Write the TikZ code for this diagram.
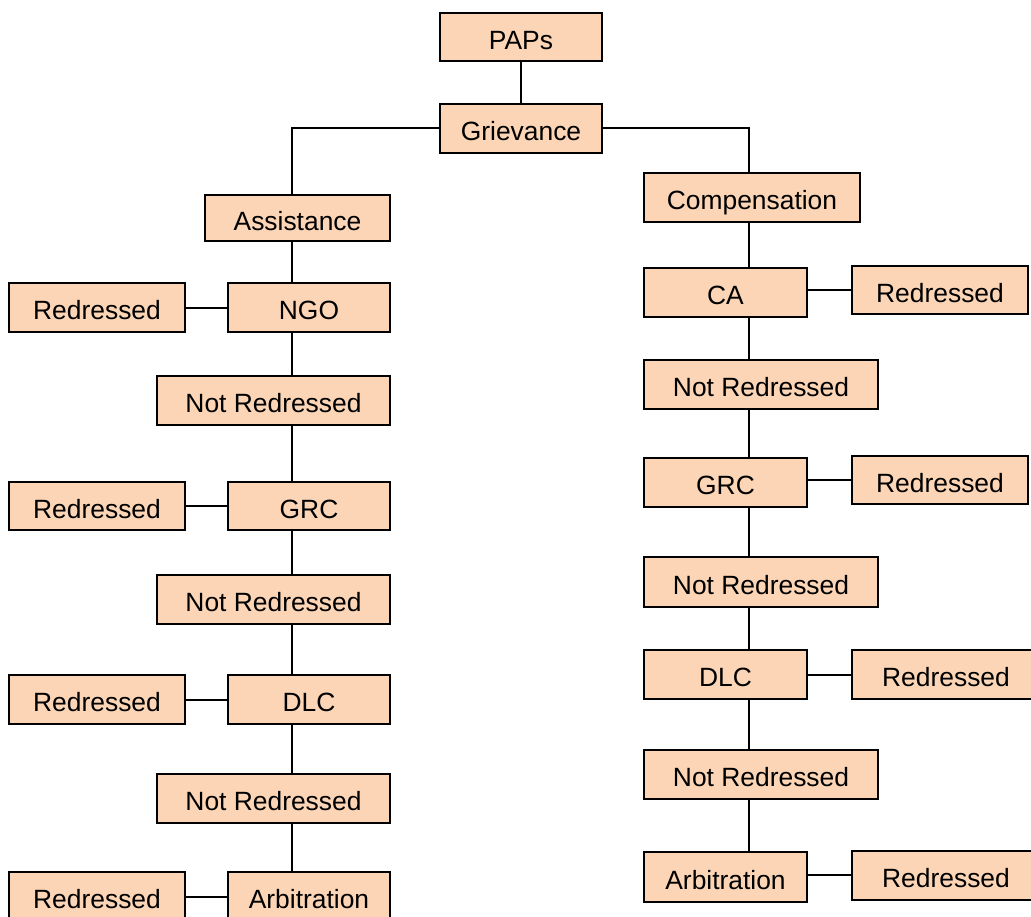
\documentclass[tikz,border=0pt]{standalone}
\usepackage{fontspec}
\setmainfont{Liberation Sans}
\definecolor{peach}{RGB}{251,213,181}
\begin{document}
\begin{tikzpicture}[x=0.5pt,y=-0.5pt,
  box/.style={draw=black,fill=peach,line width=1pt,inner sep=0pt,text height=12pt,text depth=0pt,font=\fontsize{13.2}{15}\selectfont},
  conn/.style={draw=black,line width=1pt}]
\useasboundingbox (0,0) rectangle (1031,916);
% top
\node[box,minimum width=81pt,minimum height=24pt] (paps) at (521,37) {PAPs};
\node[box,minimum width=81pt,minimum height=24.5pt] (griev) at (521,128) {Grievance};
\node[box,minimum width=92.5pt,minimum height=23pt] (assist) at (297.5,218) {Assistance};
\node[box,minimum width=108pt,minimum height=24.5pt] (comp) at (752,197.5) {Compensation};
% left column
\node[box,minimum width=81pt,minimum height=24.5pt] (ngo) at (309,307.5) {NGO};
\node[box,minimum width=88pt,minimum height=24.5pt] (lred1) at (97,307.5) {Redressed};
\node[box,minimum width=116.5pt,minimum height=24.5pt] (lnr1) at (273.5,400.5) {Not Redressed};
\node[box,minimum width=81pt,minimum height=24pt] (lgrc) at (309,506) {GRC};
\node[box,minimum width=88pt,minimum height=24pt] (lred2) at (97,506) {Redressed};
\node[box,minimum width=116.5pt,minimum height=24.5pt] (lnr2) at (273.5,599.5) {Not Redressed};
\node[box,minimum width=81pt,minimum height=24.5pt] (ldlc) at (309,699.5) {DLC};
\node[box,minimum width=88pt,minimum height=24.5pt] (lred3) at (97,699.5) {Redressed};
\node[box,minimum width=116.5pt,minimum height=24.5pt] (lnr3) at (273.5,798.5) {Not Redressed};
\node[box,minimum width=81pt,minimum height=24.5pt] (larb) at (309,896.5) {Arbitration};
\node[box,minimum width=88pt,minimum height=24.5pt] (lred4) at (97,896.5) {Redressed};
% right column
\node[box,minimum width=81.5pt,minimum height=24.5pt] (ca) at (725.5,292.5) {CA};
\node[box,minimum width=88pt,minimum height=24pt] (rred1) at (940,290) {Redressed};
\node[box,minimum width=117pt,minimum height=24.5pt] (rnr1) at (761,384) {Not Redressed};
\node[box,minimum width=81.5pt,minimum height=24.5pt] (rgrc) at (725.5,482.5) {GRC};
\node[box,minimum width=88pt,minimum height=24pt] (rred2) at (940,480) {Redressed};
\node[box,minimum width=117pt,minimum height=25pt] (rnr2) at (761,582) {Not Redressed};
\node[box,minimum width=81.5pt,minimum height=24.5pt] (rdlc) at (725.5,674.5) {DLC};
\node[box,minimum width=94pt,minimum height=24.5pt] (rred3) at (946,674.5) {Redressed};
\node[box,minimum width=117pt,minimum height=24.5pt] (rnr3) at (761,774.5) {Not Redressed};
\node[box,minimum width=81.5pt,minimum height=25pt] (rarb) at (725.5,877) {Arbitration};
\node[box,minimum width=94pt,minimum height=24.5pt] (rred4) at (946,875) {Redressed};
% spine coordinates
\coordinate (lv) at (292,0);
\coordinate (rv) at (749,0);
% connectors
\draw[conn] (paps.south) -- (griev.north);
\draw[conn] (griev.west) -| (assist.north -| lv);
\draw[conn] (griev.east) -| (comp.north -| rv);
\draw[conn] (assist.south -| lv) -- (ngo.north -| lv);
\draw[conn] (ngo.south -| lv) -- (lnr1.north -| lv);
\draw[conn] (lnr1.south -| lv) -- (lgrc.north -| lv);
\draw[conn] (lgrc.south -| lv) -- (lnr2.north -| lv);
\draw[conn] (lnr2.south -| lv) -- (ldlc.north -| lv);
\draw[conn] (ldlc.south -| lv) -- (lnr3.north -| lv);
\draw[conn] (lnr3.south -| lv) -- (larb.north -| lv);
\draw[conn] (lred1.east) -- (ngo.west);
\draw[conn] (lred2.east) -- (lgrc.west);
\draw[conn] (lred3.east) -- (ldlc.west);
\draw[conn] (lred4.east) -- (larb.west);
\draw[conn] (comp.south -| rv) -- (ca.north -| rv);
\draw[conn] (ca.south -| rv) -- (rnr1.north -| rv);
\draw[conn] (rnr1.south -| rv) -- (rgrc.north -| rv);
\draw[conn] (rgrc.south -| rv) -- (rnr2.north -| rv);
\draw[conn] (rnr2.south -| rv) -- (rdlc.north -| rv);
\draw[conn] (rdlc.south -| rv) -- (rnr3.north -| rv);
\draw[conn] (rnr3.south -| rv) -- (rarb.north -| rv);
\draw[conn] (ca.east |- rred1.west) -- (rred1.west);
\draw[conn] (rgrc.east |- rred2.west) -- (rred2.west);
\draw[conn] (rdlc.east) -- (rdlc.east -| rred3.west);
\draw[conn] (rarb.east |- rred4.west) -- (rred4.west);
\end{tikzpicture}
\end{document}
